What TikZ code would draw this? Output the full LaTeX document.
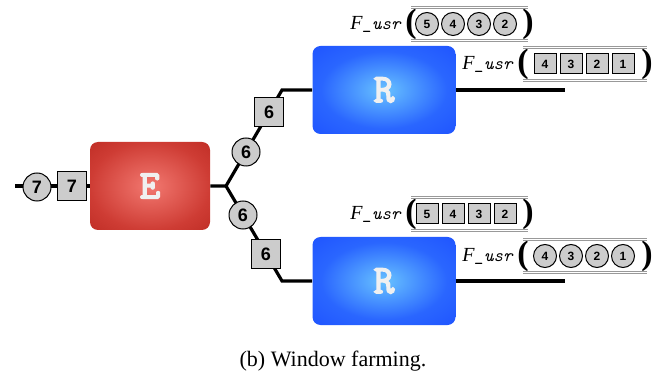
\documentclass[tikz,border=0pt]{standalone}
\usepackage{fontspec}
\setmainfont{Liberation Serif}
\setsansfont{Liberation Sans}
\newfontfamily\unitfont{Latin Modern Mono}[AutoFakeBold=4]
\usetikzlibrary{positioning}

\definecolor{ecore}{RGB}{242,120,112}
\definecolor{emid}{RGB}{206,60,52}
\definecolor{eedge}{RGB}{174,28,20}
\definecolor{erim}{RGB}{155,18,10}
\definecolor{rcore}{RGB}{104,194,255}
\definecolor{rmid}{RGB}{42,102,255}
\definecolor{redge}{RGB}{20,66,255}
\definecolor{rrim}{RGB}{10,44,236}
\pgfdeclareradialshading{eglow}{\pgfpoint{0bp}{0bp}}{color(0bp)=(ecore); color(25bp)=(emid); color(50bp)=(eedge); color(70bp)=(erim)}
\pgfdeclareradialshading{rglow}{\pgfpoint{0bp}{0bp}}{color(0bp)=(rcore); color(22bp)=(rmid); color(50bp)=(redge); color(70bp)=(rrim)}

\begin{document}
\begin{tikzpicture}[
  x=0.5pt,y=-0.5pt,
  wire/.style={line width=1.6pt},
  unit/.style={shade,rounded corners=4pt,minimum width=71.5pt,minimum height=44pt,
    font=\fontsize{20}{22}\selectfont\unitfont\bfseries,text=gray!12},
  eunit/.style={unit,shading=eglow,minimum width=60pt},
  runit/.style={unit,shading=rglow},
  tokc/.style={circle,draw,fill=gray!40,line width=0.5pt,minimum size=14pt,inner sep=0pt,
    font=\fontsize{9}{10}\selectfont\sffamily\bfseries},
  toks/.style={rectangle,draw,fill=gray!40,line width=0.5pt,minimum size=14.5pt,inner sep=0pt,
    font=\fontsize{9}{10}\selectfont\sffamily\bfseries},
  qcirc/.style={circle,draw,fill=gray!40,line width=0.5pt,minimum size=11.5pt,inner sep=0pt,
    font=\fontsize{6}{7}\selectfont\sffamily\bfseries},
  qsq/.style={rectangle,draw,fill=gray!40,line width=0.5pt,minimum width=11pt,minimum height=10pt,
    inner sep=0pt,font=\fontsize{6}{7}\selectfont\sffamily\bfseries},
  paren/.style={inner sep=0pt,minimum height=16pt,font=\fontsize{17}{17}\selectfont\bfseries},
  usr/.style={inner sep=0pt},
  qline/.style={gray!80,line width=0.35pt,double,double distance=0.45pt}]

  \useasboundingbox (0,0) rectangle (662,373);

  % ================= emitter and the two replicas =================
  \node[eunit] (e) at (150,186) {E};
  \node[runit] (ru) at (384,90) {R};
  \node[runit] (rd) at (384,281) {R};

  \coordinate (src) at (15,186);
  \coordinate (jn) at (226,186);
  \coordinate (bu) at (282,90);
  \coordinate (bd) at (282,281);
  \coordinate (outu) at (565,90);
  \coordinate (outd) at (565,281);

  % wires
  \draw[wire] (src) -- (e.west);
  \draw[wire] (e.east) -- (jn) -- (bu) -- (ru.west);
  \draw[wire] (jn) -- (bd) -- (rd.west);
  \draw[wire] (ru.east) -- (outu);
  \draw[wire] (rd.east) -- (outd);

  % tuples on the wires
  \node[tokc] (c7) at (37,187) {7};
  \node[toks] (s7) at (72,186) {7};
  \node[tokc] (cu) at (246,152) {6};
  \node[toks] (su) at (269,112) {6};
  \node[tokc] (cd) at (243,215) {6};
  \node[toks] (sd) at (266,254) {6};

  % ================= windows of the replicas =================
  % upper replica, incoming window
  \node[paren] (pa1) at (411,24) {(};
  \node[usr,left=2pt of pa1] (ua) {\fontsize{10}{11}\selectfont\textit{F}{\ttfamily\itshape\fontsize{9}{10}\selectfont\_usr}};
  \foreach \n [count=\i] in {5,4,3,2}
    \node[qcirc] (qa\i) at ({401+26*\i},24) {\n};
  \node[paren] (pa2) at (528,24) {)};
  \draw[qline] (pa1.north) -- (pa2.north);
  \draw[qline] (pa1.south) -- (pa2.south);

  % upper replica, outgoing window
  \node[paren] (pb1) at (523,64) {(};
  \node[usr,left=2pt of pb1] (ub) {\fontsize{10}{11}\selectfont\textit{F}{\ttfamily\itshape\fontsize{9}{10}\selectfont\_usr}};
  \foreach \n [count=\i] in {4,3,2,1}
    \node[qsq] (qb\i) at ({519+26*\i},64) {\n};
  \node[paren] (pb2) at (647,64) {)};
  \draw[qline] (pb1.north) -- (pb2.north);
  \draw[qline] (pb1.south) -- (pb2.south);

  % lower replica, incoming window
  \node[paren] (pc1) at (411,214) {(};
  \node[usr,left=2pt of pc1] (uc) {\fontsize{10}{11}\selectfont\textit{F}{\ttfamily\itshape\fontsize{9}{10}\selectfont\_usr}};
  \foreach \n [count=\i] in {5,4,3,2}
    \node[qsq] (qc\i) at ({401+26*\i},214) {\n};
  \node[paren] (pc2) at (528,214) {)};
  \draw[qline] (pc1.north) -- (pc2.north);
  \draw[qline] (pc1.south) -- (pc2.south);

  % lower replica, outgoing window
  \node[paren] (pd1) at (523,256) {(};
  \node[usr,left=2pt of pd1] (ud) {\fontsize{10}{11}\selectfont\textit{F}{\ttfamily\itshape\fontsize{9}{10}\selectfont\_usr}};
  \foreach \n [count=\i] in {4,3,2,1}
    \node[qcirc] (qd\i) at ({519+26*\i},256) {\n};
  \node[paren] (pd2) at (647,256) {)};
  \draw[qline] (pd1.north) -- (pd2.north);
  \draw[qline] (pd1.south) -- (pd2.south);

  % caption
  \node[font=\fontsize{11}{13}\selectfont] (cap) at (333,361) {(b) Window farming.};
\end{tikzpicture}
\end{document}
